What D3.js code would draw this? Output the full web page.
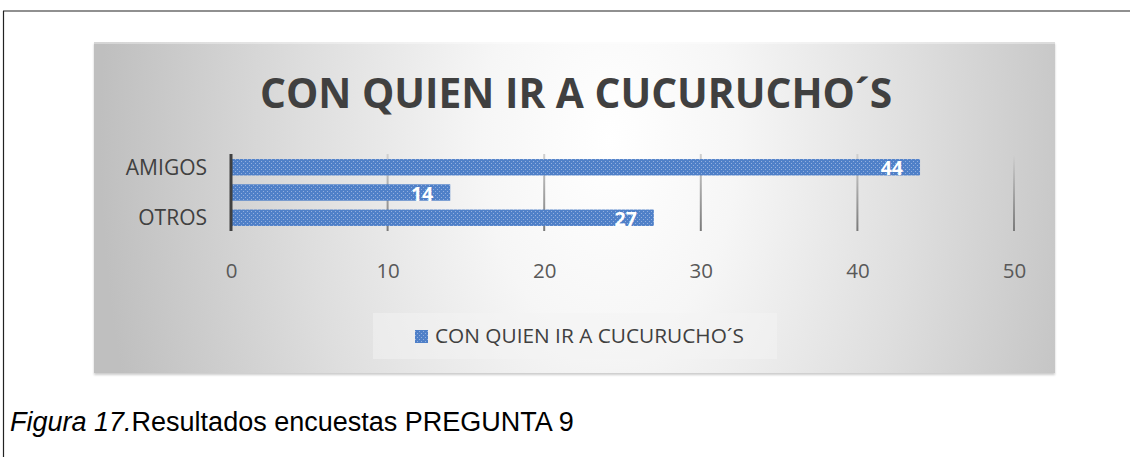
<!DOCTYPE html>
<html>
<head>
<meta charset="utf-8">
<script src="https://cdn.jsdelivr.net/npm/d3@7"></script>
<style>
  body { margin: 0; background: #fff; }
  svg { display: block; }
</style>
</head>
<body>
<svg id="chart" width="1130" height="457"></svg>
<script>
const categories = ['AMIGOS', '', 'OTROS'];
const values = [44, 14, 27];
const xTicks = [0, 10, 20, 30, 40, 50];
const seriesName = 'CON QUIEN IR A CUCURUCHO´S';
const chartTitle = 'CON QUIEN IR A CUCURUCHO´S';

const svg = d3.select('#chart');
const defs = svg.append('defs');

// page frame (document table border)
svg.append('line').attr('x1', 3).attr('x2', 1130).attr('y1', 11).attr('y2', 11)
  .attr('stroke', '#222').attr('stroke-width', 1.2);
svg.append('line').attr('x1', 3.5).attr('x2', 3.5).attr('y1', 11).attr('y2', 457)
  .attr('stroke', '#222').attr('stroke-width', 1.2);

// chart area background
const area = { x: 94, y: 42, w: 961, h: 331 };

const bg = defs.append('radialGradient').attr('id', 'bg')
  .attr('gradientUnits', 'userSpaceOnUse')
  .attr('cx', 610).attr('cy', 140).attr('r', 510)
  .attr('gradientTransform', 'translate(610 140) scale(1 1.6) translate(-610 -140)');
bg.append('stop').attr('offset', '0').attr('stop-color', '#ffffff');
bg.append('stop').attr('offset', '0.25').attr('stop-color', '#f6f6f6');
bg.append('stop').attr('offset', '0.6').attr('stop-color', '#dedede');
bg.append('stop').attr('offset', '1').attr('stop-color', '#bfbfbf');

const shadow = defs.append('filter').attr('id', 'shadow')
  .attr('x', '-2%').attr('y', '-2%').attr('width', '104%').attr('height', '106%');
shadow.append('feDropShadow').attr('dx', 0).attr('dy', 2).attr('stdDeviation', 1)
  .attr('flood-color', '#000').attr('flood-opacity', 0.2);

svg.append('rect').attr('x', area.x).attr('y', area.y).attr('width', area.w).attr('height', area.h)
  .attr('fill', 'url(#bg)').attr('filter', 'url(#shadow)');
svg.append('rect').attr('x', area.x).attr('y', area.y).attr('width', area.w).attr('height', 2)
  .attr('fill', '#fff').attr('fill-opacity', 0.35);

// bar pattern (dotted blue)
const pat = defs.append('pattern').attr('id', 'dots').attr('patternUnits', 'userSpaceOnUse')
  .attr('width', 4).attr('height', 4);
pat.append('rect').attr('width', 4).attr('height', 4).attr('fill', '#4f80c8');
pat.append('rect').attr('x', 1).attr('y', 1).attr('width', 1).attr('height', 1).attr('fill', '#93afde');
pat.append('rect').attr('x', 3).attr('y', 3).attr('width', 1).attr('height', 1).attr('fill', '#93afde');

// title
svg.append('text').attr('x', 576).attr('y', 108).attr('text-anchor', 'middle')
  .attr('font-family', 'Open Sans').attr('font-weight', 700).attr('font-size', 40.7)
  .attr('fill', '#404040').text(chartTitle);

// scales
const x = d3.scaleLinear().domain([0, 50]).range([231, 1014]);
const y = d3.scaleBand().domain(d3.range(categories.length)).range([154, 231]).paddingInner(0.35).paddingOuter(0.2);

// gridlines
const grid = defs.append('linearGradient').attr('id', 'grid').attr('x1', 0).attr('x2', 0).attr('y1', 0).attr('y2', 1);
grid.append('stop').attr('offset', '0').attr('stop-color', '#d0d0d0');
grid.append('stop').attr('offset', '1').attr('stop-color', '#7a7a7a');

svg.append('g').selectAll('rect').data(xTicks.slice(1)).join('rect')
  .attr('x', d => x(d) - 1).attr('y', 154).attr('width', 2).attr('height', 77)
  .attr('fill', 'url(#grid)');

// bars
svg.append('g').selectAll('rect').data(values).join('rect')
  .attr('x', x(0)).attr('y', (d, i) => y(i))
  .attr('width', d => x(d) - x(0)).attr('height', y.bandwidth())
  .attr('fill', 'url(#dots)');

// value labels
svg.append('g').selectAll('text').data(values).join('text')
  .attr('x', d => x(d) - 17).attr('y', (d, i) => y(i) + y.bandwidth() / 2 + 1)
  .attr('dy', '0.36em').attr('text-anchor', 'end')
  .attr('font-family', 'Open Sans').attr('font-weight', 700).attr('font-size', 19.5)
  .attr('fill', '#fff').text(d => d);

// category axis line
svg.append('line').attr('x1', x(0)).attr('x2', x(0)).attr('y1', 154).attr('y2', 231)
  .attr('stroke', '#404040').attr('stroke-width', 3);

// category labels
svg.append('g').selectAll('text').data(categories).join('text')
  .attr('x', 207).attr('y', (d, i) => y(i) + y.bandwidth() / 2)
  .attr('dy', '0.36em').attr('text-anchor', 'end')
  .attr('font-family', 'Open Sans').attr('font-size', 21)
  .attr('fill', '#404040').text(d => d);

// x axis tick labels
const xAxis = d3.axisBottom(x).tickValues(xTicks).tickSize(0).tickPadding(0);
const gx = svg.append('g').attr('transform', 'translate(0,271)').call(xAxis);
gx.select('.domain').remove();
gx.selectAll('text').attr('dy', '0.36em').attr('y', 0)
  .attr('font-family', 'Open Sans').attr('font-size', 20.5).attr('fill', '#595959');

// legend
const lg = svg.append('g');
lg.append('rect').attr('x', 373).attr('y', 313).attr('width', 404).attr('height', 46)
  .attr('fill', '#f4f4f4').attr('fill-opacity', 0.5);
lg.append('rect').attr('x', 415).attr('y', 330).attr('width', 13).attr('height', 13)
  .attr('fill', 'url(#dots)');
lg.append('text').attr('x', 435).attr('y', 336).attr('dy', '0.36em')
  .attr('font-family', 'Open Sans').attr('font-size', 20.8).attr('fill', '#404040')
  .text(seriesName);

// caption
const cap = svg.append('text').attr('x', 10).attr('y', 431)
  .attr('font-family', 'Liberation Sans').attr('font-size', 27).attr('fill', '#000');
cap.append('tspan').attr('font-style', 'italic').text('Figura 17.');
cap.append('tspan').text('Resultados encuestas PREGUNTA 9');
</script>
</body>
</html>
